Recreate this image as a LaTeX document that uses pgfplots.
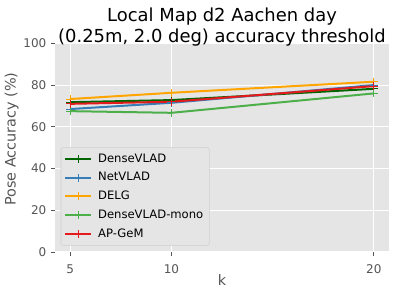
\documentclass[border=0pt]{standalone}
\usepackage{pgfplots}
\pgfplotsset{compat=1.18}
\usepackage{fontspec}
\setmainfont{DejaVu Sans}
\definecolor{bgGray}{HTML}{E5E5E5}
\definecolor{labelgray}{HTML}{555555}
\definecolor{legendframe}{HTML}{CFCFCF}
\definecolor{cDense}{HTML}{006400}
\definecolor{cNet}{HTML}{377EB8}
\definecolor{cDELG}{HTML}{FFA500}
\definecolor{cMono}{HTML}{4DAF4A}
\definecolor{cAP}{HTML}{E41A1C}
\begin{document}
\begin{tikzpicture}
\begin{axis}[
  name=ax,
  scale only axis,
  width=250.5pt, height=156.5pt,
  xmin=4.25, xmax=20.75, ymin=0, ymax=100,
  xtick={5,10,20}, ytick={0,20,40,60,80,100},
  xtick pos=bottom, ytick pos=left,
  axis background/.style={fill=bgGray},
  axis line style={draw=none},
  grid=major,
  major grid style={white, line width=0.75pt},
  tick align=outside,
  major tick length=3pt,
  tick style={color=labelgray, line width=0.6pt},
  /pgf/number format/assume math mode=true,
  tick label style={font=\fontsize{9}{10}\selectfont, text=labelgray},
  xticklabel style={anchor=base, yshift=-13pt},
  xlabel={k}, ylabel={Pose Accuracy (\%)},
  xlabel style={at={([yshift=-25.5pt]rel axis cs:0.5,0)}, anchor=base, font=\fontsize{10.8}{12}\selectfont, text=labelgray},
  ylabel style={at={([xshift=-32.5pt,yshift=6.5pt]rel axis cs:0,0.5)}, anchor=center, font=\fontsize{10.8}{12}\selectfont, text=labelgray},
  title={Local Map d2 Aachen day\\(0.25m, 2.0 deg) accuracy threshold},
  title style={at={(rel axis cs:0.5,1)}, anchor=south, align=center, inner sep=0pt, yshift=-8.5pt, font=\fontsize{13.45}{15.5}\selectfont},
  legend style={at={(rel axis cs:0,0)}, anchor=south west, xshift=4.3pt, yshift=4.5pt,
    fill=bgGray, draw=legendframe, rounded corners=2pt, font=\fontsize{8.7}{10}\selectfont,
    row sep=2.1pt, column sep=2.5pt, inner xsep=2.5pt, inner ysep=3pt},
  legend cell align=left,
  legend image code/.code={\draw[mark repeat=2,mark phase=2,#1] plot coordinates {(0cm,0cm) (0.34cm,0cm) (0.68cm,0cm)};},
  every axis plot/.append style={line width=1.5pt, mark=+, mark size=3pt, mark options={line width=0.75pt}},
]
\addplot[color=cDense] coordinates {(5,71.8) (10,72.8) (20,78.2)};
\addlegendentry{DenseVLAD}
\addplot[color=cNet] coordinates {(5,68.5) (10,71.5) (20,80.0)};
\addlegendentry{NetVLAD}
\addplot[color=cDELG] coordinates {(5,73.3) (10,76.3) (20,81.6)};
\addlegendentry{DELG}
\addplot[color=cMono] coordinates {(5,67.5) (10,66.7) (20,76.0)};
\addlegendentry{DenseVLAD-mono}
\addplot[color=cAP] coordinates {(5,71.0) (10,72.0) (20,79.5)};
\addlegendentry{AP-GeM}
\end{axis}
\pgfresetboundingbox
\path[use as bounding box] ([shift={(-41.25pt,-27pt)}]ax.south west) rectangle ++(300pt,216pt);
\end{tikzpicture}
\end{document}
